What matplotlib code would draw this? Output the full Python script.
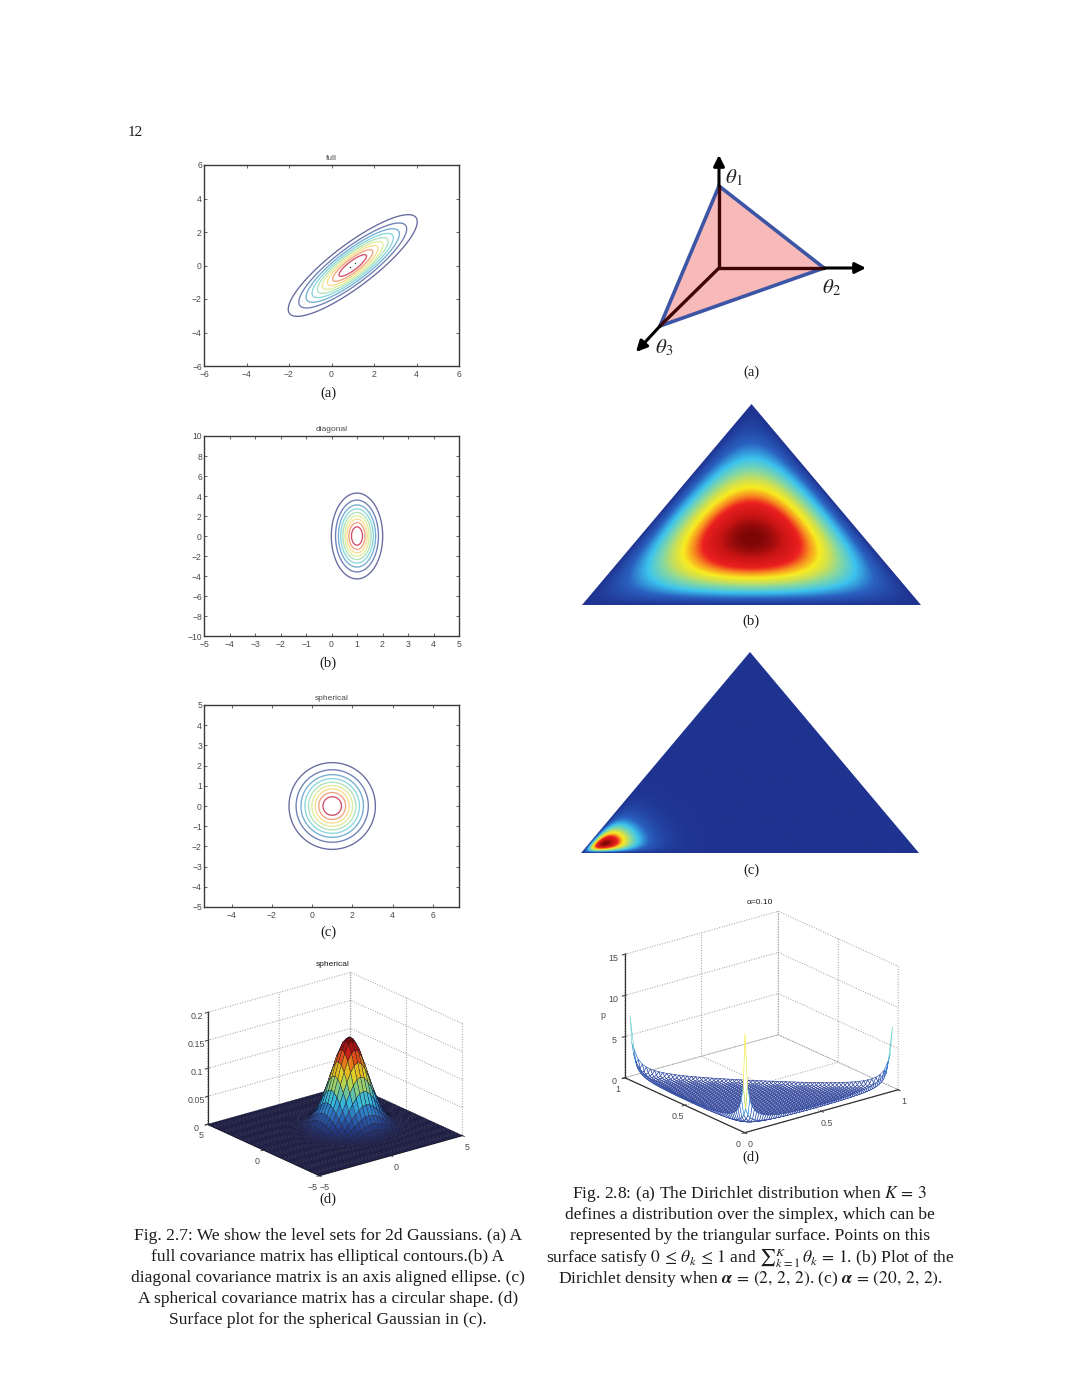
# -*- coding: utf-8 -*-
import numpy as np
import matplotlib
matplotlib.use('Agg')
import matplotlib.pyplot as plt
from matplotlib.colors import LinearSegmentedColormap
from matplotlib.patches import Polygon
from mpl_toolkits.mplot3d.art3d import Poly3DCollection

plt.rcParams['font.family'] = ['Liberation Serif', 'DejaVu Serif']
plt.rcParams['mathtext.fontset'] = 'stix'
plt.rcParams['grid.linestyle'] = ':'
plt.rcParams['grid.linewidth'] = 0.7
plt.rcParams['grid.color'] = '#999999'

W, H = 1080, 1397
SANS = 'Liberation Sans'
TICK = '#4a4a4a'

# Gaussians of the contour panels
mean = [1.0, 0.0]
cov_full = [[2.0, 1.72], [1.72, 2.0]]
cov_diag = [[0.22, 0.0], [0.0, 4.0]]
cov_sphe = [[1.0, 0.0], [0.0, 1.0]]

# contour levels as a share of the peak, and their colours
level_share = [0.1, 0.2, 0.3, 0.4, 0.5, 0.6, 0.7, 0.8, 0.9]
level_colors = ['#666a9e', '#6c7eb4', '#74aed2', '#8ad6de', '#aee2bc',
                '#e0ec9c', '#f8dc8e', '#f0a27c', '#d24e68']

full_xticks = [-6, -4, -2, 0, 2, 4, 6]
full_yticks = [-6, -4, -2, 0, 2, 4, 6]
diag_xticks = [-5, -4, -3, -2, -1, 0, 1, 2, 3, 4, 5]
diag_yticks = [-10, -8, -6, -4, -2, 0, 2, 4, 6, 8, 10]
sphe_xticks = [-4, -2, 0, 2, 4, 6]
sphe_yticks = [-5, -4, -3, -2, -1, 0, 1, 2, 3, 4, 5]
full_dots_x = [0.85, 1.1]
full_dots_y = [-0.1, 0.15]

# simplex sketch, in page pixels
origin = [719, 268]
vertex_1 = [719, 186]
vertex_2 = [824, 268]
vertex_3 = [660, 326]
tip_1 = [719, 155]
tip_2 = [866, 268]
tip_3 = [636, 352]

alpha_b = [2, 2, 2]
alpha_c = [20, 2, 2]
alpha_d = 0.10

surf_ticks = [-5, 0, 5]
surf_zticks = [0, 0.05, 0.1, 0.15, 0.2]
surf_zlabels = ['0', '0.05', '0.1', '0.15', '0.2']
mesh_ticks = [0, 0.5, 1]
mesh_labels = ['0', '0.5', '1']
mesh_zticks = [0, 5, 10, 15]

left_caption = [
    'Fig. 2.7: We show the level sets for 2d Gaussians. (a) A',
    'full covariance matrix has elliptical contours.(b) A',
    'diagonal covariance matrix is an axis aligned ellipse. (c)',
    'A spherical covariance matrix has a circular shape. (d)',
    'Surface plot for the spherical Gaussian in (c).',
]
right_caption = [
    r'Fig. 2.8: (a) The Dirichlet distribution when $K\,=\,3$',
    'defines a distribution over the simplex, which can be',
    'represented by the triangular surface. Points on this',
    r'surface satisfy $0\,\leq\,\theta_k\,\leq\,1$ and '
    r'$\sum{}_{k=1}^{K}\,\theta_k\,=\,1$. (b) Plot of the',
    r'Dirichlet density when $\mathbfit{\alpha}\,=\,(2,\,2,\,2)$. '
    r'(c) $\mathbfit{\alpha}\,=\,(20,\,2,\,2)$.',
]
left_caption_y = [1236, 1257, 1278, 1299, 1320]
right_caption_y = [1194, 1215, 1236, 1258, 1279]

density_stops = [0.0, 0.2, 0.36, 0.5, 0.6, 0.68, 0.76, 0.83, 0.93, 1.0]
density_colors = ['#1f3390', '#2a60c0', '#3cc4ee', '#88d8a0', '#d0e050',
                  '#f8ec20', '#f89020', '#ec2020', '#c81414', '#7c0606']
density_cmap = LinearSegmentedColormap.from_list(
    'soft_jet', list(zip(density_stops, density_colors)))


def rect(left, top, right, bottom):
    return [left / W, 1 - bottom / H, (right - left) / W, (bottom - top) / H]


def page_text(x, y, s, size=12.6, **kw):
    fig.text(x / W, 1 - y / H, s, fontsize=size, ha='center', va='center',
             color='#1c1c1c', **kw)


def gauss(xs, ys, cov):
    X, Y = np.meshgrid(xs, ys)
    inv = np.linalg.inv(cov)
    dx, dy = X - mean[0], Y - mean[1]
    Z = np.exp(-0.5 * (inv[0, 0] * dx**2 + 2 * inv[0, 1] * dx * dy
                       + inv[1, 1] * dy**2))
    return X, Y, Z / (2 * np.pi * np.sqrt(np.linalg.det(cov)))


def contour_panel(box, title, cov, xlim, ylim, xticks, yticks):
    ax = fig.add_axes(rect(*box))
    xs = np.linspace(xlim[0], xlim[1], 400)
    ys = np.linspace(ylim[0], ylim[1], 400)
    X, Y, Z = gauss(xs, ys, cov)
    ax.contour(X, Y, Z, levels=np.array(level_share) * Z.max(),
               colors=level_colors, linewidths=0.95)
    ax.set_xlim(xlim)
    ax.set_ylim(ylim)
    ax.set_xticks(xticks)
    ax.set_yticks(yticks)
    ax.tick_params(direction='in', length=2.5, width=0.6, top=True,
                   right=True, labelsize=6.2, colors=TICK, pad=1.5)
    ax.tick_params(axis='x', pad=2.8)
    for lab in ax.get_xticklabels() + ax.get_yticklabels():
        lab.set_family(SANS)
    for sp in ax.spines.values():
        sp.set_linewidth(1.0)
        sp.set_color('#3a3a3a')
    ax.set_title(title, fontsize=6, family=SANS, color=TICK, pad=3.5)
    return ax


def density_panel(box, alpha):
    ax = fig.add_axes(rect(*box))
    xs = np.linspace(0, 1, 700)
    ys = np.linspace(0, 1, 500)
    X, Y = np.meshgrid(xs, ys)
    top = Y
    right = X - Y / 2
    left = 1 - X - Y / 2
    Z = (np.clip(left, 0, 1) ** (alpha[0] - 1)
         * np.clip(right, 0, 1) ** (alpha[1] - 1)
         * np.clip(top, 0, 1) ** (alpha[2] - 1))
    im = ax.imshow(Z, extent=[0, 1, 0, 1], origin='lower', aspect='auto',
                   cmap=density_cmap, interpolation='bilinear')
    tri = Polygon([[0, 0], [1, 0], [0.5, 1]], transform=ax.transData,
                  fc='none', ec='none')
    ax.add_patch(tri)
    im.set_clip_path(tri)
    ax.set_axis_off()


def style_3d(ax, xt, yt, zt, zlim, xlabels=None, zlabels=None):
    ax.set_proj_type('ortho')
    ax.view_init(elev=21, azim=-128)
    ax.set_xticks(xt)
    ax.set_yticks(yt)
    ax.set_zticks(zt)
    if xlabels:
        ax.set_xticklabels(xlabels)
        ax.set_yticklabels(xlabels)
    if zlabels:
        ax.set_zticklabels(zlabels)
    ax.tick_params(labelsize=6.4, colors=TICK, pad=-3.2, length=2)
    ax.tick_params(axis='z', pad=-3.5)
    for axis in (ax.xaxis, ax.yaxis, ax.zaxis):
        axis.set_pane_color((1, 1, 1, 0))
        axis.pane.set_edgecolor('none')
        axis.line.set_color('#333333')
        axis.line.set_linewidth(0.9)
        for lab in axis.get_ticklabels():
            lab.set_family(SANS)
    ax.set_xlim(xt[0], xt[-1], view_margin=0)
    ax.set_ylim(yt[0], yt[-1], view_margin=0)
    ax.set_zlim(zlim[0], zlim[1], view_margin=0)
    ax.patch.set_alpha(0)


fig = plt.figure(figsize=(W / 100, H / 100), dpi=100, facecolor='white')

# left column, contour panels
ax_a = contour_panel((204, 165, 459, 366), 'full', cov_full, (-6, 6), (-6, 6),
                     full_xticks, full_yticks)
ax_a.plot(full_dots_x, full_dots_y, 'o', ms=1.0, color='#333333', mew=0)
contour_panel((204, 436, 459, 636), 'diagonal', cov_diag, (-5, 5), (-10, 10),
              diag_xticks, diag_yticks)
contour_panel((204, 705, 459, 907), 'spherical', cov_sphe, (-5.37, 7.3),
              (-5, 5), sphe_xticks, sphe_yticks)

# left column, surface
ax_s = fig.add_axes(rect(193.8, 940.2, 468.8, 1215.2), projection='3d')
ax_s.set_box_aspect((1, 1, 0.661))
xs = np.arange(-5, 5.01, 0.25)
X, Y, Z = gauss(xs, xs, cov_sphe)
surf_cmap = LinearSegmentedColormap.from_list('surf_jet', [
    '#20204e', '#24408e', '#2c74c0', '#36b8dc', '#7cc888', '#dcdc2c',
    '#ec9a18', '#d42418', '#7c0a0a'])
ax_s.plot_surface(X, Y, Z, rstride=1, cstride=1, cmap=surf_cmap,
                  edgecolor='#14142a', linewidth=0.25, shade=False)
style_3d(ax_s, surf_ticks, surf_ticks, surf_zticks, (0, 0.2),
         zlabels=surf_zlabels)
page_text(333, 965, 'spherical', size=6, family=SANS)

# right column, simplex sketch
ax_t = fig.add_axes(rect(620, 145, 880, 385))
ax_t.set_xlim(620, 880)
ax_t.set_ylim(385, 145)
ax_t.set_axis_off()
ax_t.add_patch(Polygon([vertex_1, vertex_2, vertex_3], fc='#f8b9b9', ec='none'))
for v, tip in ((vertex_1, tip_1), (vertex_2, tip_2), (vertex_3, tip_3)):
    ax_t.annotate('', xy=tip, xytext=v,
                  arrowprops=dict(arrowstyle='-|>', color='black', lw=2.2,
                                  mutation_scale=16, shrinkA=0, shrinkB=0))
    ax_t.plot([origin[0], v[0]], [origin[1], v[1]], color='#3d0505', lw=2.4,
              solid_capstyle='round')
ax_t.add_patch(Polygon([vertex_1, vertex_2, vertex_3], fc='none',
                       ec='#3c55a5', lw=2.6))
ax_t.text(734, 178, r'$\theta_1$', fontsize=15, ha='center', va='center',
          color='#222222')
ax_t.text(831, 288, r'$\theta_2$', fontsize=15, ha='center', va='center',
          color='#222222')
ax_t.text(664, 348, r'$\theta_3$', fontsize=15, ha='center', va='center',
          color='#222222')

# right column, densities
density_panel((582, 404, 921, 605), alpha_b)
density_panel((581, 652, 919, 853), alpha_c)

# right column, mesh of the Dirichlet density
ax_m = fig.add_axes(rect(609.2, 877.7, 905.8, 1174.3), projection='3d')
ax_m.set_box_aspect((1, 1, 0.679))
edge = 0.015
grid = np.arange(0.011, 1, edge)
norm_c = 0.00348
polys, cols = [], []
for gx in grid:
    for gy in grid:
        corners = [(gx, gy), (gx + edge, gy), (gx + edge, gy + edge),
                   (gx, gy + edge)]
        pts = []
        for cx, cy in corners:
            rest = 1 - cx - cy
            if rest >= 0.017:
                pts.append((cx, cy, norm_c * (cx * cy * rest) ** (alpha_d - 1)))
        if len(pts) < 3:
            continue
        polys.append(pts)
        cols.append(density_cmap(max(p[2] for p in pts) / 18))
mesh = Poly3DCollection(polys, facecolors='white', edgecolors=cols,
                        linewidths=0.42)
ax_m.add_collection3d(mesh)
style_3d(ax_m, mesh_ticks, mesh_ticks, mesh_zticks, (0, 15),
         xlabels=mesh_labels)
ax_m.set_zlabel('p', fontsize=6.4, family=SANS, color=TICK, labelpad=-12)
page_text(760, 903, 'α=0.10', size=6, family=SANS)

# panel letters
page_text(135, 132, '12', size=11)
for x, y, s in ((328, 393, '(a)'), (328, 663, '(b)'), (328, 932, '(c)'),
                (328, 1199, '(d)'), (751, 372, '(a)'), (751, 621, '(b)'),
                (751, 870, '(c)'), (751, 1157, '(d)')):
    page_text(x, y, s, size=10.5)

for y, line in zip(left_caption_y, left_caption):
    page_text(328, y, line)
for y, line in zip(right_caption_y, right_caption):
    page_text(750, y, line)

fig.savefig('out.png', dpi=100)
